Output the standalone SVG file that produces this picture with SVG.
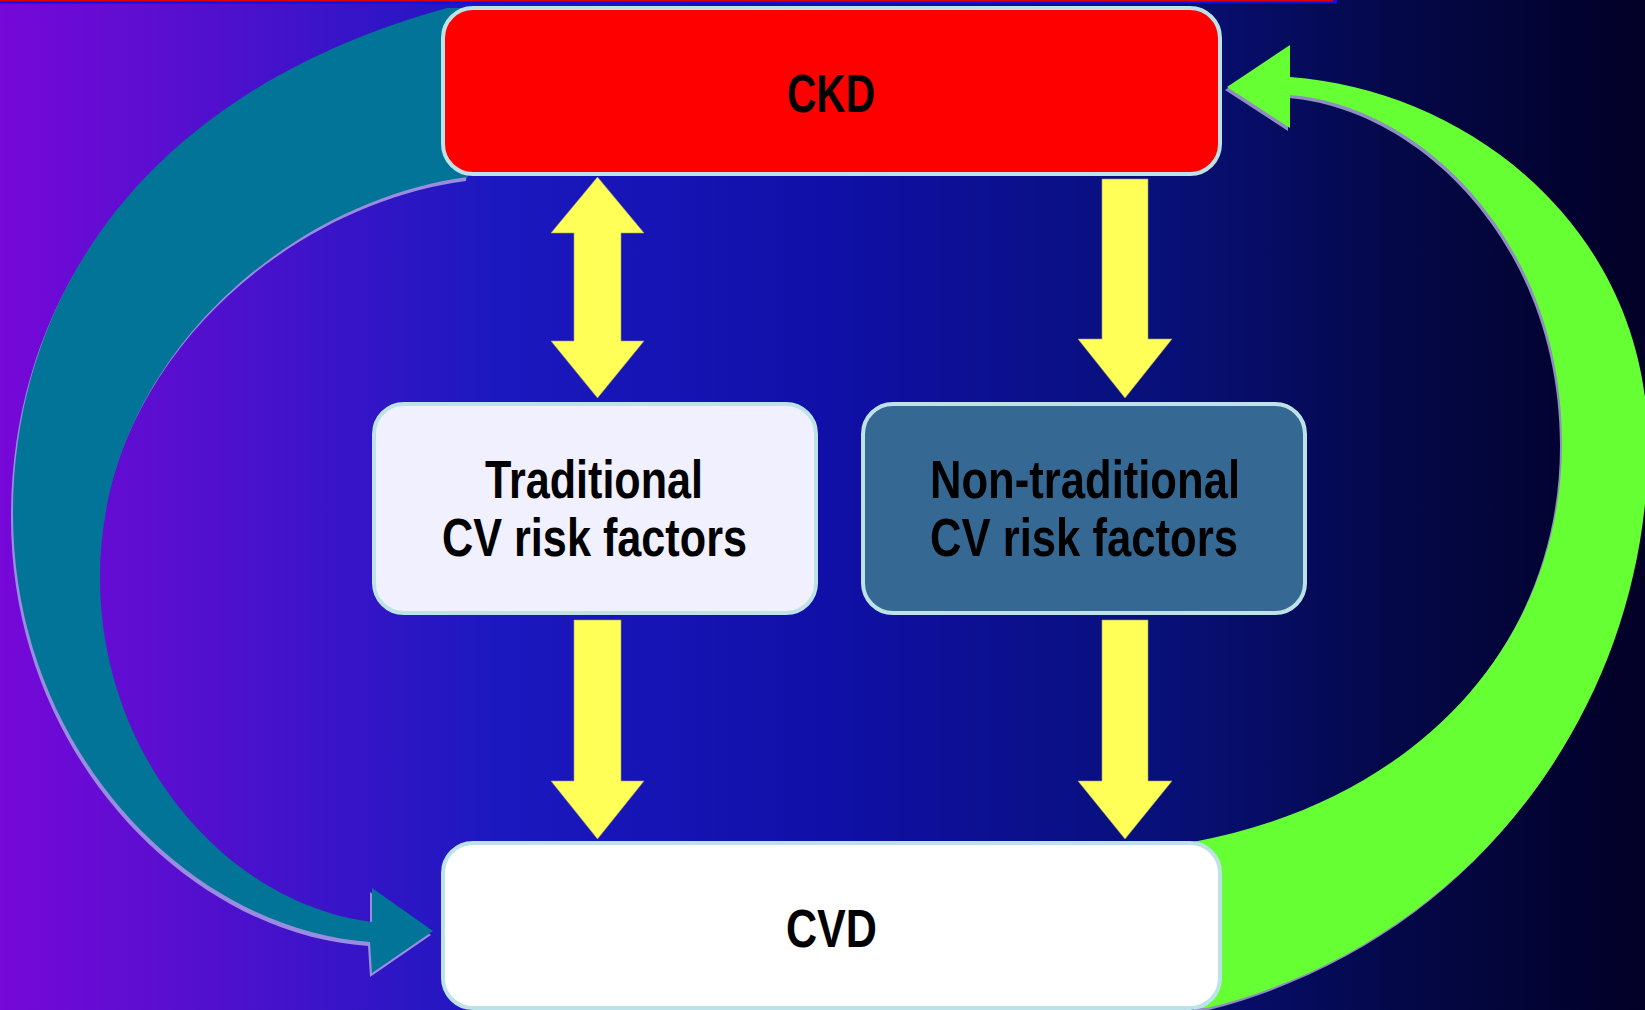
<svg xmlns="http://www.w3.org/2000/svg" width="1645" height="1010" viewBox="0 0 1645 1010">
  <defs>
    <linearGradient id="bg" x1="0" y1="0" x2="1" y2="0">
      <stop offset="0" stop-color="#7608d8"/>
      <stop offset="0.1" stop-color="#5a0ed0"/>
      <stop offset="0.2" stop-color="#3a14c8"/>
      <stop offset="0.3" stop-color="#1c18c0"/>
      <stop offset="0.5" stop-color="#1010a8"/>
      <stop offset="0.7" stop-color="#08107a"/>
      <stop offset="0.85" stop-color="#040848"/>
      <stop offset="1" stop-color="#020026"/>
    </linearGradient>
    <path id="tealShape" d="M 447,8 C 150,90 13,290 13,514 C 13,750 190,930 370,942 L 372,973 L 433,931 L 372,888 L 372,922 C 230,905 100,760 100,577 C 100,360 290,200 468,177 L 470,160 L 470,8 Z"/>
    <path id="greenShape" d="M 1207,1008 C 1480,940 1648,700 1648,445 C 1648,230 1470,90 1290,77 L 1290,45 L 1227,87 L 1290,128 L 1290,95 C 1420,105 1562,240 1562,443 C 1562,640 1420,800 1193,842 L 1196,1008 Z"/>
  </defs>
  <style>
    .box { stroke: #bde3e8; stroke-width: 4; }
    .lbl { font-family: "Liberation Sans Narrow", "Liberation Sans", Arial, sans-serif; font-weight: bold; font-size: 53px; fill: #000; text-anchor: middle; }
    .yarrow { fill: #ffff58; stroke: #a0a070; stroke-width: 0.6; }
  </style>

  <rect x="0" y="0" width="1645" height="1010" fill="url(#bg)"/>
  <rect x="0" y="0" width="1337" height="3.5" fill="#1010e0"/>
  <rect x="0" y="0" width="1333" height="1.5" fill="#e00000"/>

  <g id="connectors">
    <g id="ckd-to-cvd-curve">
      <use href="#tealShape" transform="translate(-2,4)" fill="#9a8ce0"/>
      <use href="#tealShape" fill="#017497"/>
    </g>
    <g id="cvd-to-ckd-curve">
      <use href="#greenShape" transform="translate(-2,3)" fill="#8e8ec0"/>
      <use href="#greenShape" fill="#66ff33"/>
    </g>
    <path id="ckd-trad" class="yarrow" d="M 597.5,177 L 644,233 L 621,233 L 621,341 L 644,341 L 597.5,398 L 551,341 L 574,341 L 574,233 L 551,233 Z"/>
    <path id="ckd-nontrad" class="yarrow" d="M 1102,179 L 1148,179 L 1148,339 L 1172,339 L 1125,398 L 1078,339 L 1102,339 Z"/>
    <path id="trad-cvd" class="yarrow" d="M 574,620 L 621,620 L 621,781 L 644,781 L 597.5,839 L 551,781 L 574,781 Z"/>
    <path id="nontrad-cvd" class="yarrow" d="M 1102,620 L 1148,620 L 1148,781 L 1172,781 L 1125,839 L 1078,781 L 1102,781 Z"/>
  </g>

  <g id="node-ckd">
    <rect class="box" x="443" y="8" width="777" height="166" rx="30" ry="30" fill="#ff0000"/>
    <text class="lbl" x="831" y="112" textLength="88" lengthAdjust="spacingAndGlyphs">CKD</text>
  </g>
  <g id="node-traditional">
    <rect class="box" x="374" y="404" width="442" height="209" rx="30" ry="30" fill="#f0f0ff"/>
    <text class="lbl" x="594" y="498" textLength="218" lengthAdjust="spacingAndGlyphs">Traditional</text>
    <text class="lbl" x="594.5" y="556" textLength="305" lengthAdjust="spacingAndGlyphs">CV risk factors</text>
  </g>
  <g id="node-nontraditional">
    <rect class="box" x="863" y="404" width="442" height="209" rx="30" ry="30" fill="#356892"/>
    <text class="lbl" x="1085" y="498" textLength="310" lengthAdjust="spacingAndGlyphs">Non-traditional</text>
    <text class="lbl" x="1084" y="556" textLength="308" lengthAdjust="spacingAndGlyphs">CV risk factors</text>
  </g>
  <g id="node-cvd">
    <rect class="box" x="443" y="843" width="777" height="165" rx="30" ry="30" fill="#ffffff"/>
    <text class="lbl" x="831.5" y="947" textLength="91" lengthAdjust="spacingAndGlyphs">CVD</text>
  </g>
</svg>
